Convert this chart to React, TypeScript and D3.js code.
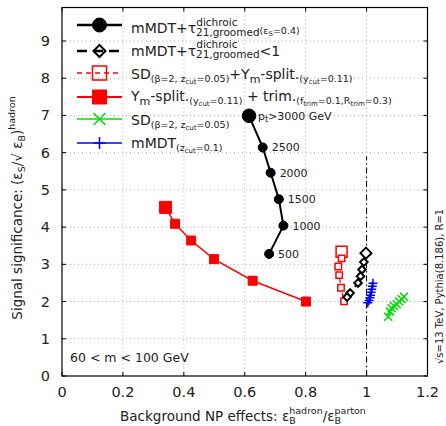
import React from 'react'
import * as d3 from 'd3'

// mMDT + tau21 dichroic (eps_S = 0.4), one point per pt cut
const ptLabels = ['3000', '2500', '2000', '1500', '1000', '500']
const dichroicBkg = [0.614, 0.659, 0.685, 0.712, 0.727, 0.68]
const dichroicSig = [6.99, 6.14, 5.46, 4.75, 4.04, 3.28]

// mMDT + tau21 dichroic < 1
const cutBkg = [0.998, 0.991, 0.985, 0.98, 0.972, 0.946, 0.936]
const cutSig = [3.3, 3.06, 2.86, 2.68, 2.5, 2.23, 2.12]

// SD + Ym-split
const sdYmBkg = [0.918, 0.918, 0.907, 0.91, 0.916, 0.926]
const sdYmSig = [3.34, 3.16, 2.94, 2.71, 2.37, 2.01]

// Ym-split + trim
const ymTrimBkg = [0.34, 0.371, 0.424, 0.499, 0.626, 0.801]
const ymTrimSig = [4.53, 4.09, 3.64, 3.14, 2.56, 2.0]

// SD(beta=2)
const sdBkg = [1.071, 1.077, 1.082, 1.09, 1.099, 1.107, 1.115, 1.123]
const sdSig = [1.59, 1.73, 1.82, 1.88, 1.93, 2.0, 2.06, 2.13]

// mMDT(zcut=0.1)
const mmdtBkg = [1.021, 1.019, 1.017, 1.015, 1.013, 1.011, 1.008, 1.004]
const mmdtSig = [2.49, 2.41, 2.33, 2.25, 2.17, 2.1, 2.03, 1.97]

const xTicks = [0, 0.2, 0.4, 0.6, 0.8, 1, 1.2]
const yTicks = [0, 1, 2, 3, 4, 5, 6, 7, 8, 9]

const W = 446
const H = 426
const FONT = 'DejaVu Sans'

const x = d3.scaleLinear().domain([0, 1.2]).range([62, 427.5])
const y = d3.scaleLinear().domain([0, 9.9]).range([376, 7.5])

function markerPath(kind: string, s: number) {
  if (kind === 'circle') return d3.symbol(d3.symbolCircle, Math.PI * s * s)() as string
  if (kind === 'square') return `M${-s},${-s}h${2 * s}v${2 * s}h${-2 * s}Z`
  if (kind === 'diamond') return `M0,${-s}L${s},0L0,${s}L${-s},0Z`
  if (kind === 'plus') return `M${-s},0H${s}M0,${-s}V${s}`
  return `M${-s},${-s}L${s},${s}M${-s},${s}L${s},${-s}`
}

type Series = {
  xs: number[]
  ys: number[]
  color: string
  dash?: string
  lw: number
  kind: string
  size: number
  big?: number
  fill: boolean
  mlw: number
}

const series: Series[] = [
  { xs: ymTrimBkg, ys: ymTrimSig, color: '#ff0000', lw: 1.5, kind: 'square', size: 4.5, big: 6, fill: true, mlw: 1 },
  { xs: sdYmBkg, ys: sdYmSig, color: '#ff0000', dash: '4,3', lw: 1.2, kind: 'square', size: 3.2, big: 5.5, fill: false, mlw: 1.5 },
  { xs: dichroicBkg, ys: dichroicSig, color: '#000', lw: 2, kind: 'circle', size: 4.5, big: 6.8, fill: true, mlw: 1 },
  { xs: cutBkg, ys: cutSig, color: '#000', dash: '6,4', lw: 2, kind: 'diamond', size: 3.8, big: 5.5, fill: false, mlw: 2 },
  { xs: sdBkg, ys: sdSig, color: '#00dd00', lw: 1.2, kind: 'x', size: 4, fill: false, mlw: 1.5 },
  { xs: mmdtBkg, ys: mmdtSig, color: '#0000ff', lw: 1.2, kind: 'plus', size: 4.5, fill: false, mlw: 1.5 },
]

// [text, font size, baseline shift (down positive), optional dx]
type Seg = [string, number, number, number?]

function Rich({ x0, y0, segs, anchor }: { x0: number; y0: number; segs: Seg[]; anchor?: string }) {
  let prev = 0
  return (
    <text x={x0} y={y0} fontFamily={FONT} fill="#222" textAnchor={anchor || 'start'}>
      {segs.map(([t, fs, sh, dx], i) => {
        const dy = sh - prev
        prev = sh
        return (
          <tspan key={i} fontSize={fs} dy={dy} dx={dx}>
            {t}
          </tspan>
        )
      })}
    </text>
  )
}

const BIG = 14
const SM = 9.5
const XS = 7
const MID = 10.5
// width of "dichroic" at MID size, to stack the subscript under the superscript
const DICH_W = 3.95 * MID

function LegendHandle({ s, cy }: { s: Series; cy: number }) {
  return (
    <g>
      <line x1={77} x2={122} y1={cy} y2={cy} stroke={s.color} strokeWidth={s.lw + 0.5}
        strokeDasharray={s.dash ? (s.kind === 'diamond' ? '10,6' : '5,4') : undefined} />
      <path d={markerPath(s.kind, s.kind === 'circle' || s.kind === 'square' ? 7 : 6)}
        transform={`translate(99.5,${cy})`}
        fill={s.fill ? s.color : 'none'} stroke={s.color} strokeWidth={s.mlw} />
    </g>
  )
}

export default function App() {
  const line = d3.line<number>()
  return (
    <svg width={W} height={H} style={{ position: 'absolute', left: 0, top: 0, background: '#fff' }}>
      {/* grid */}
      {xTicks.slice(1, -1).map(t => (
        <line key={'gx' + t} x1={x(t)} x2={x(t)} y1={y(9.9)} y2={y(0)} stroke="#aaa" strokeDasharray="1,3" />
      ))}
      {yTicks.slice(1).map(t => (
        <line key={'gy' + t} x1={x(0)} x2={x(1.2)} y1={y(t)} y2={y(t)} stroke="#aaa" strokeDasharray="1,3" />
      ))}
      <line x1={x(1)} x2={x(1)} y1={y(0)} y2={y(5.9)} stroke="#000" strokeWidth={1} strokeDasharray="6,3,1.5,3" />

      {/* series */}
      {series.map((s, i) => {
        const pts = s.xs.map((v, j) => [x(v), y(s.ys[j])] as [number, number])
        return (
          <g key={i}>
            <path d={line(pts as any) as string} fill="none" stroke={s.color} strokeWidth={s.lw} strokeDasharray={s.dash} />
            {pts.map((p, j) => (
              <path key={j} d={markerPath(s.kind, j === 0 && s.big ? s.big : s.size)}
                transform={`translate(${p[0]},${p[1]})`}
                fill={s.fill ? s.color : s.kind === 'square' || s.kind === 'diamond' ? '#fff' : 'none'}
                stroke={s.color} strokeWidth={s.mlw} />
            ))}
          </g>
        )
      })}

      {/* pt labels */}
      {ptLabels.map((l, j) =>
        j === 0 ? (
          <Rich key={l} x0={x(dichroicBkg[j]) + 9} y0={y(dichroicSig[j]) + 4}
            segs={[['p', 11, 0], ['t', 8, 2], ['>' + l + ' GeV', 11, 0]]} />
        ) : (
          <text key={l} x={x(dichroicBkg[j]) + 9} y={y(dichroicSig[j]) + 4} fontSize={11} fontFamily={FONT} fill="#222">{l}</text>
        )
      )}

      {/* frame and ticks */}
      <rect x={x(0)} y={y(9.9)} width={x(1.2) - x(0)} height={y(0) - y(9.9)} fill="none" stroke="#000" strokeWidth={1.2} />
      {xTicks.map(t => (
        <g key={'tx' + t}>
          <line x1={x(t)} x2={x(t)} y1={y(0)} y2={y(0) - 4} stroke="#000" />
          <line x1={x(t)} x2={x(t)} y1={y(9.9)} y2={y(9.9) + 4} stroke="#000" />
          <text x={x(t)} y={397} textAnchor="middle" fontSize={14.5} fontFamily={FONT} fill="#222">{String(t)}</text>
        </g>
      ))}
      {yTicks.map(t => (
        <g key={'ty' + t}>
          <line x1={x(0)} x2={x(0) + 4} y1={y(t)} y2={y(t)} stroke="#000" />
          <line x1={x(1.2)} x2={x(1.2) - 4} y1={y(t)} y2={y(t)} stroke="#000" />
          <text x={50} y={y(t) + 5} textAnchor="end" fontSize={14.5} fontFamily={FONT} fill="#222">{String(t)}</text>
        </g>
      ))}

      {/* axis titles */}
      <Rich x0={243} y0={421} anchor="middle"
        segs={[['Background NP effects: ε', 13.5, 0], ['B', 9.5, 3], ['hadron', 9.5, -7, -6.5], ['/ε', 13.5, 0], ['B', 9.5, 3], ['parton', 9.5, -7, -6.5]]} />
      <g transform="translate(22,208) rotate(-90)">
        <Rich x0={0} y0={0} anchor="middle"
          segs={[['Signal significance: (ε', 13.5, 0], ['S', 9.5, 3], ['/√ ε', 13.5, 0], ['B', 9.5, 3], [')', 13.5, 0], ['hadron', 9.5, -7]]} />
      </g>
      <g transform="translate(443,364) rotate(-90)">
        <text x={0} y={0} fontSize={10} fontFamily={FONT} fill="#222">√s=13 TeV, Pythia(8.186), R=1</text>
      </g>
      <text x={70} y={362} fontSize={12.5} fontFamily={FONT} fill="#222">60 &lt; m &lt; 100 GeV</text>

      {/* legend */}
      <LegendHandle s={series[2]} cy={25} />
      <Rich x0={131} y0={33} segs={[
        ['mMDT+τ', BIG, 0], ['dichroic', MID, -7], ['21,groomed', MID, 2.5, -DICH_W],
        ['(ε', SM, 1], ['S', XS, 3], ['=0.4)', SM, 1]]} />

      <LegendHandle s={series[3]} cy={51} />
      <Rich x0={131} y0={56} segs={[
        ['mMDT+τ', BIG, 0], ['dichroic', MID, -8], ['21,groomed', MID, 1.5, -DICH_W],
        ['<1', BIG, 0]]} />

      <LegendHandle s={series[1]} cy={73} />
      <Rich x0={131} y0={79} segs={[
        ['SD', BIG, 0], ['(β=2, z', SM, 3], ['cut', XS, 5], ['=0.05)', SM, 3],
        ['+Y', BIG, 0], ['m', 11, 4], ['-split.', BIG, 0],
        ['(y', SM, 3], ['cut', XS, 5], ['=0.11)', SM, 3]]} />

      <LegendHandle s={series[0]} cy={97} />
      <Rich x0={131} y0={101} segs={[
        ['Y', BIG, 0], ['m', 11, 4], ['-split.', BIG, 0],
        ['(y', SM, 3], ['cut', XS, 5], ['=0.11)', SM, 3],
        [' + trim.', BIG, 0], ['(f', SM, 3], ['trim', XS, 5], ['=0.1,R', SM, 3], ['trim', XS, 5], ['=0.3)', SM, 3]]} />

      <LegendHandle s={series[4]} cy={119} />
      <Rich x0={131} y0={125} segs={[['SD', BIG, 0], ['(β=2, z', SM, 3], ['cut', XS, 5], ['=0.05)', SM, 3]]} />

      <LegendHandle s={series[5]} cy={143} />
      <Rich x0={131} y0={148} segs={[['mMDT', BIG, 0], ['(z', SM, 3], ['cut', XS, 5], ['=0.1)', SM, 3]]} />
    </svg>
  )
}
